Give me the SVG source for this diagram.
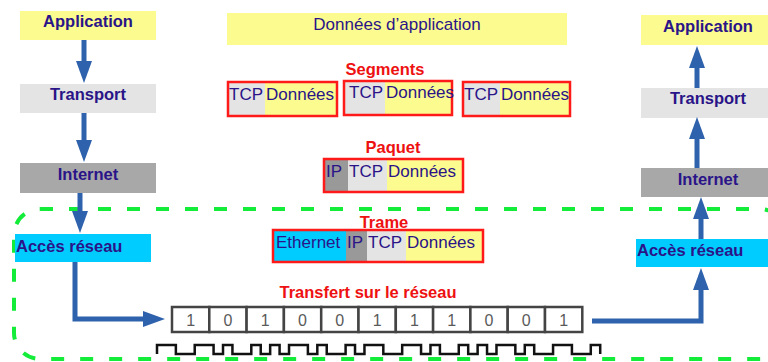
<svg xmlns="http://www.w3.org/2000/svg" width="768" height="362" viewBox="0 0 768 362">
<style>
.layer{font-family:"Liberation Sans",Arial,sans-serif;font-weight:bold;font-size:16.5px;fill:#2a1488}
.mid{text-anchor:middle}
.red{font-family:"Liberation Sans",Arial,sans-serif;font-weight:bold;font-size:16.5px;fill:#ee1111;text-anchor:middle}
.pdu{font-family:"Liberation Sans",Arial,sans-serif;font-size:17px;fill:#2a1488}
.bit{font-family:"Liberation Sans",Arial,sans-serif;font-size:16px;fill:#5a5a5a;text-anchor:middle}
.frame{fill:none;stroke:#ff1a1a;stroke-width:2.5}
.yel{fill:#fbfb8f}.lg{fill:#e4e4e4}.dg{fill:#a8a8a8}.ip{fill:#999}.cy{fill:#00ccff}
.cell{fill:#fff;stroke:#444;stroke-width:2.5}
.conn{fill:none;stroke:#2e62ac;stroke-width:5;stroke-linejoin:miter;marker-end:url(#ah)}
</style>
<defs>
<marker id="ah" viewBox="0 0 22 16" refX="10" refY="8" markerWidth="22" markerHeight="16" orient="auto" markerUnits="userSpaceOnUse">
<path d="M0,0 L22,8 L0,16 Z" fill="#2e62ac"/>
</marker>
</defs>
<rect width="768" height="362" fill="#fff"/>
<rect id="network-zone" x="14" y="209" width="772" height="150" rx="26" fill="none" stroke="#14ec3a" stroke-width="4" stroke-dasharray="13 16"/>

<g id="left-application"><rect class="yel" x="20" y="11" width="136" height="29"/><text class="layer mid" x="88" y="27">Application</text></g>
<g id="left-transport"><rect class="lg" x="20" y="84" width="136" height="29"/><text class="layer mid" x="88" y="100">Transport</text></g>
<g id="left-internet"><rect class="dg" x="20" y="163" width="136" height="30"/><text class="layer mid" x="88" y="180">Internet</text></g>
<g id="left-acces"><rect class="cy" x="15" y="234" width="136" height="28"/><text class="layer" x="16" y="252">Accès réseau</text></g>

<g id="right-application"><rect class="yel" x="641" y="15" width="127" height="30"/><text class="layer mid" x="708" y="32">Application</text></g>
<g id="right-transport"><rect class="lg" x="641" y="88" width="127" height="30"/><text class="layer mid" x="708" y="104">Transport</text></g>
<g id="right-internet"><rect class="dg" x="641" y="168" width="127" height="29"/><text class="layer mid" x="708" y="185">Internet</text></g>
<g id="right-acces"><rect class="cy" x="636" y="239" width="132" height="28"/><text class="layer" x="637" y="256">Accès réseau</text></g>

<g id="app-data"><rect class="yel" x="227" y="13" width="340" height="32"/><text class="pdu mid" x="397" y="30">Données d’application</text></g>

<g id="segments">
<text class="red" x="385" y="75">Segments</text>
<rect class="lg" x="228" y="82" width="37" height="34"/><rect class="yel" x="265" y="82" width="72" height="34"/><rect class="frame" x="228" y="82" width="109" height="34"/>
<text class="pdu" x="229" y="100">TCP</text><text class="pdu" x="266" y="100">Données</text>
<rect class="lg" x="344" y="81" width="41" height="34"/><rect class="yel" x="385" y="81" width="67" height="34"/><rect class="frame" x="344" y="81" width="108" height="34"/>
<text class="pdu" x="349" y="98">TCP</text><text class="pdu" x="386" y="98">Données</text>
<rect class="lg" x="463" y="82" width="37" height="34"/><rect class="yel" x="500" y="82" width="70" height="34"/><rect class="frame" x="463" y="82" width="107" height="34"/>
<text class="pdu" x="464" y="100">TCP</text><text class="pdu" x="501" y="100">Données</text>
</g>

<g id="paquet">
<text class="red" x="393" y="153">Paquet</text>
<rect class="ip" x="324" y="159" width="24" height="33"/><rect class="lg" x="348" y="159" width="39" height="33"/><rect class="yel" x="387" y="159" width="76" height="33"/><rect class="frame" x="324" y="159" width="139" height="33"/>
<text class="pdu" x="326" y="177">IP</text><text class="pdu" x="349" y="177">TCP</text><text class="pdu" x="388" y="177">Données</text>
</g>

<g id="trame">
<text class="red" x="384" y="228">Trame</text>
<rect class="cy" x="273" y="230" width="73" height="32"/><rect class="ip" x="346" y="230" width="21" height="32"/><rect class="lg" x="367" y="230" width="39" height="32"/><rect class="yel" x="406" y="230" width="77" height="32"/><rect class="frame" x="273" y="230" width="210" height="32"/>
<text class="pdu" x="276" y="248">Ethernet</text><text class="pdu" x="347" y="248">IP</text><text class="pdu" x="368" y="248">TCP</text><text class="pdu" x="407" y="248">Données</text>
</g>

<g id="transfert">
<text class="red" x="368" y="298">Transfert sur le réseau</text>
<rect class="cell" x="172" y="307" width="37.3" height="25"/>
<rect class="cell" x="209.3" y="307" width="37.3" height="25"/>
<rect class="cell" x="246.6" y="307" width="37.3" height="25"/>
<rect class="cell" x="283.9" y="307" width="37.3" height="25"/>
<rect class="cell" x="321.2" y="307" width="37.3" height="25"/>
<rect class="cell" x="358.5" y="307" width="37.3" height="25"/>
<rect class="cell" x="395.8" y="307" width="37.3" height="25"/>
<rect class="cell" x="433.1" y="307" width="37.3" height="25"/>
<rect class="cell" x="470.4" y="307" width="37.3" height="25"/>
<rect class="cell" x="507.7" y="307" width="37.3" height="25"/>
<rect class="cell" x="545" y="307" width="37.3" height="25"/>
<text class="bit" x="190.6" y="325.5">1</text>
<text class="bit" x="227.9" y="325.5">0</text>
<text class="bit" x="265.2" y="325.5">1</text>
<text class="bit" x="302.5" y="325.5">0</text>
<text class="bit" x="339.8" y="325.5">0</text>
<text class="bit" x="377.1" y="325.5">1</text>
<text class="bit" x="414.4" y="325.5">1</text>
<text class="bit" x="451.7" y="325.5">1</text>
<text class="bit" x="489" y="325.5">0</text>
<text class="bit" x="526.3" y="325.5">0</text>
<text class="bit" x="563.6" y="325.5">1</text>
<path fill="none" stroke="#111" stroke-width="2.5" d="M157,354 v-9 h18.86 v9 h18.86 v-9 h18.86 v9 h9.43 v-9 h9.43 v9 h18.86 v-9 h9.43 v9 h9.43 v-9 h9.43 v9 h9.43 v-9 h18.86 v9 h9.43 v-9 h9.43 v9 h18.86 v-9 h9.43 v9 h9.43 v-9 h18.86 v9 h18.86 v-9 h18.86 v9 h9.43 v-9 h9.43 v9 h18.86 v-9 h9.43 v9 h9.43 v-9 h9.43 v9 h9.43 v-9 h18.86 v9 h9.43 v-9 h9.43 v9 h18.86 v-9 h18.86 v9 h18.86 v-9 h9.43 v9"/>
</g>

<g id="connectors">
<path class="conn" d="M84,40 V71"/>
<path class="conn" d="M84,113 V150"/>
<path class="conn" d="M80,193 V221"/>
<path class="conn" d="M75,262 V319 H153"/>
<path class="conn" d="M592,321 H701 V280"/>
<path class="conn" d="M701,239 V209"/>
<path class="conn" d="M697,168 V129"/>
<path class="conn" d="M697,88 V58"/>
</g>
</svg>
